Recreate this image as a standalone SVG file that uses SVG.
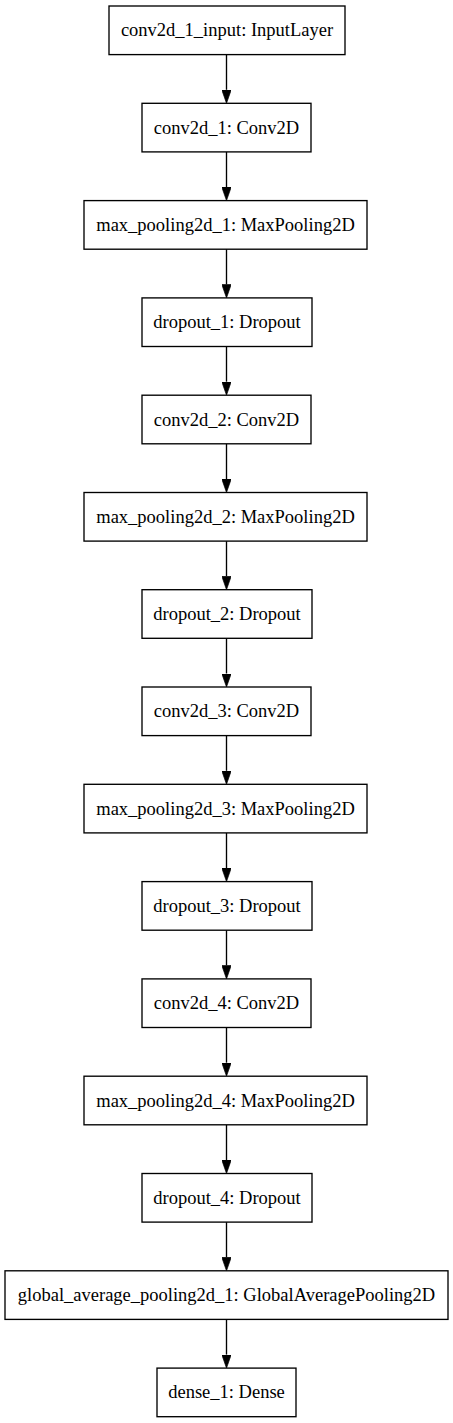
<svg xmlns="http://www.w3.org/2000/svg" width="453" height="1423" viewBox="0 0 453 1423">
<defs>
<marker id="arr" viewBox="0 0 10 7" refX="0" refY="3.5" markerWidth="13.5" markerHeight="9.5" markerUnits="userSpaceOnUse" orient="auto">
<path d="M0,0 L10,3.5 L0,7 Z" fill="#000" stroke="#000" stroke-width="0.5"/>
</marker>
<style>
rect{fill:#fff;stroke:#000;stroke-width:1.35}
text{font-family:"Liberation Serif","Times New Roman",serif;font-size:18.5px;text-anchor:middle;fill:#000}
line{stroke:#000;stroke-width:1.35;marker-end:url(#arr)}
</style>
</defs>
<rect x="0" y="0" width="453" height="1423" style="fill:#fff;stroke:none"/>
<g id="edges">
<line x1="226.5" y1="54.6" x2="226.5" y2="89.8"/>
<line x1="226.5" y1="151.9" x2="226.5" y2="187.1"/>
<line x1="226.5" y1="249.2" x2="226.5" y2="284.4"/>
<line x1="226.5" y1="346.5" x2="226.5" y2="381.7"/>
<line x1="226.5" y1="443.8" x2="226.5" y2="479.0"/>
<line x1="226.5" y1="541.1" x2="226.5" y2="576.2"/>
<line x1="226.5" y1="638.3" x2="226.5" y2="673.5"/>
<line x1="226.5" y1="735.6" x2="226.5" y2="770.8"/>
<line x1="226.5" y1="832.9" x2="226.5" y2="868.1"/>
<line x1="226.5" y1="930.2" x2="226.5" y2="965.4"/>
<line x1="226.5" y1="1027.5" x2="226.5" y2="1062.7"/>
<line x1="226.5" y1="1124.8" x2="226.5" y2="1160.0"/>
<line x1="226.5" y1="1222.1" x2="226.5" y2="1257.3"/>
<line x1="226.5" y1="1319.4" x2="226.5" y2="1354.6"/>
</g>
<g id="n1"><rect x="109" y="6.0" width="236" height="48.6"/><text x="227" y="36.3">conv2d_1_input: InputLayer</text></g>
<g id="n2"><rect x="142" y="103.3" width="169" height="48.6"/><text x="226.5" y="133.6">conv2d_1: Conv2D</text></g>
<g id="n3"><rect x="84" y="200.6" width="283" height="48.6"/><text x="225.5" y="230.9">max_pooling2d_1: MaxPooling2D</text></g>
<g id="n4"><rect x="142" y="297.9" width="170" height="48.6"/><text x="227" y="328.2">dropout_1: Dropout</text></g>
<g id="n5"><rect x="142" y="395.2" width="169" height="48.6"/><text x="226.5" y="425.5">conv2d_2: Conv2D</text></g>
<g id="n6"><rect x="84" y="492.5" width="283" height="48.6"/><text x="225.5" y="522.8">max_pooling2d_2: MaxPooling2D</text></g>
<g id="n7"><rect x="142" y="589.7" width="170" height="48.6"/><text x="227" y="620.0">dropout_2: Dropout</text></g>
<g id="n8"><rect x="142" y="687.0" width="169" height="48.6"/><text x="226.5" y="717.3">conv2d_3: Conv2D</text></g>
<g id="n9"><rect x="84" y="784.3" width="283" height="48.6"/><text x="225.5" y="814.6">max_pooling2d_3: MaxPooling2D</text></g>
<g id="n10"><rect x="142" y="881.6" width="170" height="48.6"/><text x="227" y="911.9">dropout_3: Dropout</text></g>
<g id="n11"><rect x="142" y="978.9" width="169" height="48.6"/><text x="226.5" y="1009.2">conv2d_4: Conv2D</text></g>
<g id="n12"><rect x="84" y="1076.2" width="283" height="48.6"/><text x="225.5" y="1106.5">max_pooling2d_4: MaxPooling2D</text></g>
<g id="n13"><rect x="142" y="1173.5" width="170" height="48.6"/><text x="227" y="1203.8">dropout_4: Dropout</text></g>
<g id="n14"><rect x="5" y="1270.8" width="443" height="48.6"/><text x="226.5" y="1301.1">global_average_pooling2d_1: GlobalAveragePooling2D</text></g>
<g id="n15"><rect x="157" y="1368.1" width="139" height="48.6"/><text x="226.5" y="1398.4">dense_1: Dense</text></g>
</svg>
